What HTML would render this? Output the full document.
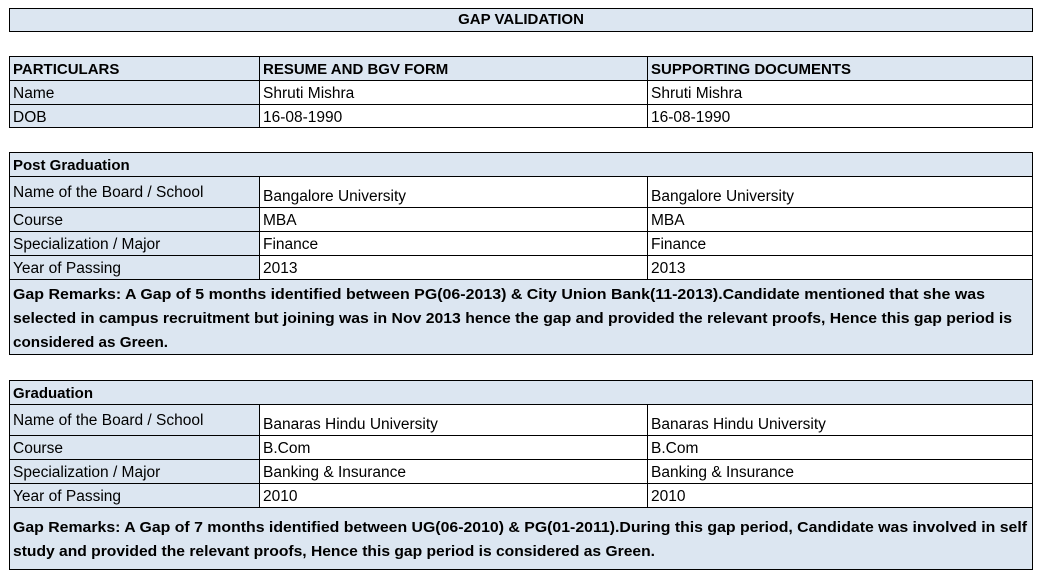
<!DOCTYPE html>
<html><head><meta charset="utf-8"><style>
html,body{margin:0;padding:0;background:#fff;}
svg{display:block;}
text{font-family:"Liberation Sans",sans-serif;font-size:15.5px;fill:#000;}
.b{font-weight:bold;font-size:15px;}
</style></head><body>
<svg width="1037" height="580" viewBox="0 0 1037 580" xmlns="http://www.w3.org/2000/svg">
<g fill="#dce6f1" stroke="none">
<rect x="9" y="8" width="1024" height="23"/>
<rect x="9" y="56" width="1024" height="24"/>
<rect x="9" y="80" width="250" height="48"/>
<rect x="9" y="152" width="1024" height="24"/>
<rect x="9" y="176" width="250" height="103"/>
<rect x="9" y="279" width="1024" height="76"/>
<rect x="9" y="380" width="1024" height="24"/>
<rect x="9" y="404" width="250" height="103"/>
<rect x="9" y="507" width="1024" height="63"/>
</g>
<g stroke="#000" stroke-width="1" fill="none" shape-rendering="crispEdges">
<rect x="9.5" y="8.5" width="1023" height="23"/>
<rect x="9.5" y="56.5" width="1023" height="71"/>
<line x1="9" y1="80.5" x2="1033" y2="80.5"/><line x1="9" y1="104.5" x2="1033" y2="104.5"/>
<line x1="259.5" y1="56" x2="259.5" y2="128"/><line x1="647.5" y1="56" x2="647.5" y2="128"/>
<rect x="9.5" y="152.5" width="1023" height="202"/>
<line x1="9" y1="176.5" x2="1033" y2="176.5"/><line x1="9" y1="207.5" x2="1033" y2="207.5"/>
<line x1="9" y1="231.5" x2="1033" y2="231.5"/><line x1="9" y1="255.5" x2="1033" y2="255.5"/>
<line x1="9" y1="279.5" x2="1033" y2="279.5"/>
<line x1="259.5" y1="176" x2="259.5" y2="279"/><line x1="647.5" y1="176" x2="647.5" y2="279"/>
<rect x="9.5" y="380.5" width="1023" height="189"/>
<line x1="9" y1="404.5" x2="1033" y2="404.5"/><line x1="9" y1="435.5" x2="1033" y2="435.5"/>
<line x1="9" y1="459.5" x2="1033" y2="459.5"/><line x1="9" y1="483.5" x2="1033" y2="483.5"/>
<line x1="9" y1="507.5" x2="1033" y2="507.5"/>
<line x1="259.5" y1="404" x2="259.5" y2="507"/><line x1="647.5" y1="404" x2="647.5" y2="507"/>
</g>
<text class="b" x="521" y="24" text-anchor="middle">GAP VALIDATION</text>
<text class="b" x="13" y="74">PARTICULARS</text>
<text class="b" x="263" y="74">RESUME AND BGV FORM</text>
<text class="b" x="651" y="74">SUPPORTING DOCUMENTS</text>
<text x="13" y="98">Name</text><text x="263" y="98">Shruti Mishra</text><text x="651" y="98">Shruti Mishra</text>
<text x="13" y="122">DOB</text><text x="263" y="122">16-08-1990</text><text x="651" y="122">16-08-1990</text>

<text class="b" x="13" y="170">Post Graduation</text>
<text x="13" y="197">Name of the Board / School</text>
<text x="263" y="201">Bangalore University</text><text x="651" y="201">Bangalore University</text>
<text x="13" y="225">Course</text><text x="263" y="225">MBA</text><text x="651" y="225">MBA</text>
<text x="13" y="249">Specialization / Major</text><text x="263" y="249">Finance</text><text x="651" y="249">Finance</text>
<text x="13" y="273">Year of Passing</text><text x="263" y="273">2013</text><text x="651" y="273">2013</text>
<text class="b" x="13" y="299" textLength="972" lengthAdjust="spacingAndGlyphs">Gap Remarks: A Gap of 5 months identified between PG(06-2013) &amp; City Union Bank(11-2013).Candidate mentioned that she was</text>
<text class="b" x="13" y="323" textLength="999" lengthAdjust="spacingAndGlyphs">selected in campus recruitment but joining was in Nov 2013 hence the gap and provided the relevant proofs, Hence this gap period is</text>
<text class="b" x="13" y="347" textLength="155" lengthAdjust="spacingAndGlyphs">considered as Green.</text>

<text class="b" x="13" y="398">Graduation</text>
<text x="13" y="425">Name of the Board / School</text>
<text x="263" y="429">Banaras Hindu University</text><text x="651" y="429">Banaras Hindu University</text>
<text x="13" y="453">Course</text><text x="263" y="453">B.Com</text><text x="651" y="453">B.Com</text>
<text x="13" y="477">Specialization / Major</text><text x="263" y="477">Banking &amp; Insurance</text><text x="651" y="477">Banking &amp; Insurance</text>
<text x="13" y="501">Year of Passing</text><text x="263" y="501">2010</text><text x="651" y="501">2010</text>
<text class="b" x="13" y="532" textLength="1014" lengthAdjust="spacingAndGlyphs">Gap Remarks: A Gap of 7 months identified between UG(06-2010) &amp; PG(01-2011).During this gap period, Candidate was involved in self</text>
<text class="b" x="13" y="556" textLength="642" lengthAdjust="spacingAndGlyphs">study and provided the relevant proofs, Hence this gap period is considered as Green.</text>
</svg>
</body></html>
